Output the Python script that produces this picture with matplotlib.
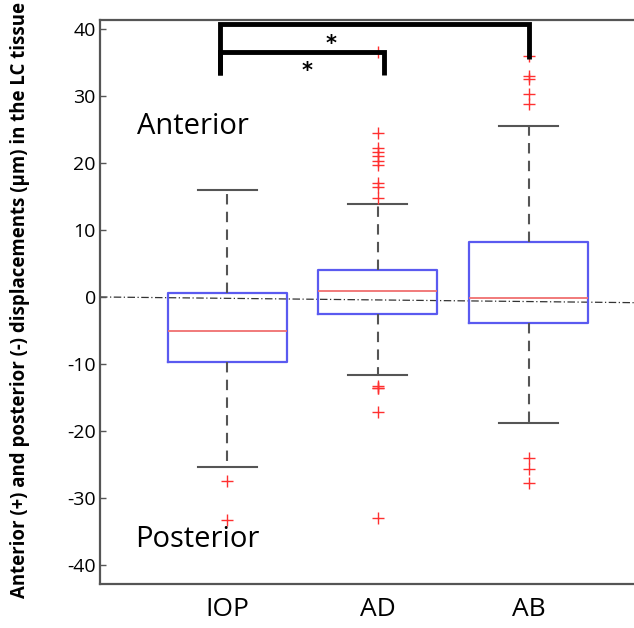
import matplotlib
matplotlib.use("Agg")
import matplotlib.pyplot as plt

# ---- data ----
groups = ["IOP", "AD", "AB"]
q1 = [-9.7, -2.5, -3.9]
median = [-5.1, 0.95, -0.2]
q3 = [0.6, 4.0, 8.2]
whisker_low = [-25.4, -11.6, -18.8]
whisker_high = [15.9, 13.8, 25.5]
outliers = [
    [-27.4, -33.2],
    [24.5, 22.2, 21.6, 21.0, 20.3, 19.7, 17.0, 16.4, 14.8, 36.6,
     -13.3, -13.6, -13.5, -17.2, -32.9],
    [36.0, 32.9, 32.5, 30.3, 28.7, -24.0, -25.6, -27.8],
]
yticks = [-40, -30, -20, -10, 0, 10, 20, 30, 40]

# significance brackets: (x_left, x_right, y_bar, y_left_end, y_right_end)
brackets = [
    (0.953, 2.04, 36.6, 33.1, 33.1),
    (0.953, 3.0, 40.7, 33.1, 35.5),
]
star_pos = [(1.53, 33.7), (1.69, 37.7)]

# ---- figure ----
fig = plt.figure(figsize=(6.34, 6.28), dpi=100)
ax = fig.add_axes([100 / 634, 1 - 584 / 628, 1 - 100 / 634, (584 - 20) / 628])

stats = []
for i, g in enumerate(groups):
    stats.append(dict(label=g, q1=q1[i], med=median[i], q3=q3[i],
                      whislo=whisker_low[i], whishi=whisker_high[i],
                      fliers=outliers[i]))

ax.bxp(stats, positions=[1, 2, 3], widths=0.79, capwidths=0.39,
       boxprops=dict(color="#5a5af0", linewidth=1.6),
       medianprops=dict(color="#f07070", linewidth=1.3),
       whiskerprops=dict(color="#555555", linewidth=1.5, linestyle=(0, (5, 3.5))),
       capprops=dict(color="#555555", linewidth=1.5),
       flierprops=dict(marker="+", markeredgecolor="#ff3030", markersize=8,
                       markeredgewidth=1.0, linestyle="none"))

# slightly sloped zero reference line
ax.plot([0.156, 3.70], [0, -0.85], color="#333333", linewidth=0.9,
        linestyle=(0, (6, 2, 1, 2)), zorder=1)

# brackets
for xl, xr, yb, yl, yr in brackets:
    ax.plot([xl, xl, xr, xr], [yl, yb, yb, yr], color="black", linewidth=3.5,
            solid_capstyle="butt", solid_joinstyle="miter", clip_on=False, zorder=5)
for sx, sy in star_pos:
    ax.text(sx, sy, "*", ha="center", va="center", fontsize=15,
            fontweight="bold", color="black", family="DejaVu Sans")

ax.set_xlim(0.156, 3.70)
ax.set_ylim(-42.8, 41.3)
ax.set_yticks(yticks)
ax.set_yticklabels([str(t) for t in yticks], fontsize=14, family="Open Sans")
ax.set_xticks([1, 2, 3])
ax.set_xticklabels(groups, fontsize=19, family="Open Sans")
ax.tick_params(axis="y", direction="in", length=4, width=1, color="#555555", pad=3)
ax.tick_params(axis="x", length=0, pad=9)
for s in ["left", "bottom", "top"]:
    ax.spines[s].set_color("#555555")
    ax.spines[s].set_linewidth(1.6)
ax.spines["right"].set_visible(False)

ax.text(0.402, 25.4, "Anterior", fontsize=21, family="Open Sans", ha="left", va="center")
ax.text(0.389, -36.2, "Posterior", fontsize=21, family="Open Sans", ha="left", va="center")

fig.text(0.032, 1 - 300 / 628, "Anterior (+) and posterior (-) displacements (\u00b5m) in the LC tissue",
         rotation=90, ha="center", va="center", fontsize=13.4, fontweight="bold",
         family="Open Sans")

fig.savefig("out.png", dpi=100)
